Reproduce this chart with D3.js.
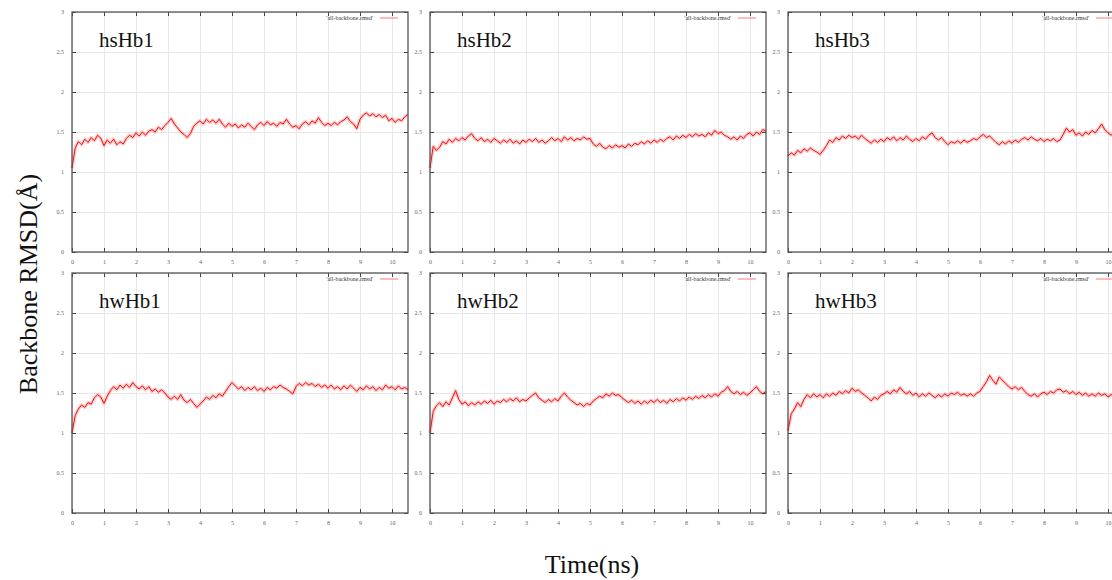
<!DOCTYPE html>
<html>
<head>
<meta charset="utf-8">
<script src="https://cdn.jsdelivr.net/npm/d3@7/dist/d3.min.js"></script>
<style>
  body { margin: 0; background: #fff; }
  .tick text { font-family: "Liberation Serif", serif; font-size: 6px; fill: #666; }
  .frame-tick line { stroke: #444; }
  .grid line { stroke: #e2e2e2; stroke-width: 0.8; }
  .grid path { display: none; }
</style>
</head>
<body>
<div id="chart"></div>
<script>
// panel titles
const panelNames = ["hsHb1", "hsHb2", "hsHb3", "hwHb1", "hwHb2", "hwHb3"];
const legendLabel = "'all-backbone.rmsd'";

// tick labels
const xTicks = [0, 1, 2, 3, 4, 5, 6, 7, 8, 9, 10];
const yTicks = [0, 0.5, 1, 1.5, 2, 2.5, 3];

// RMSD values read every 0.1 ns, from 0 to 10.5 ns
const timeStep = 0.1;

const hsHb1 = [1.05,1.30,1.38,1.34,1.41,1.37,1.43,1.39,1.46,1.42,1.33,1.40,1.36,1.41,1.34,1.38,1.35,1.42,1.46,1.43,
  1.49,1.45,1.50,1.46,1.51,1.53,1.50,1.56,1.53,1.58,1.62,1.67,1.60,1.55,1.50,1.47,1.43,1.48,1.57,1.61,
  1.64,1.60,1.66,1.62,1.65,1.61,1.66,1.60,1.56,1.61,1.57,1.60,1.55,1.59,1.56,1.61,1.57,1.53,1.59,1.62,
  1.58,1.63,1.59,1.61,1.57,1.62,1.60,1.66,1.60,1.56,1.58,1.54,1.60,1.63,1.59,1.64,1.61,1.68,1.62,1.58,
  1.61,1.58,1.62,1.59,1.63,1.65,1.69,1.63,1.60,1.54,1.66,1.71,1.74,1.70,1.73,1.69,1.72,1.68,1.71,1.64,
  1.67,1.62,1.66,1.64,1.69,1.72];

const hsHb2 = [1.05,1.32,1.27,1.31,1.38,1.35,1.41,1.37,1.42,1.39,1.43,1.40,1.45,1.48,1.42,1.39,1.43,1.38,1.41,1.37,
  1.42,1.39,1.36,1.40,1.37,1.41,1.36,1.39,1.35,1.40,1.37,1.41,1.38,1.42,1.37,1.40,1.36,1.39,1.43,1.39,
  1.42,1.38,1.44,1.40,1.43,1.39,1.42,1.40,1.44,1.41,1.42,1.35,1.32,1.36,1.31,1.29,1.33,1.30,1.34,1.31,
  1.33,1.30,1.35,1.32,1.36,1.34,1.38,1.35,1.39,1.36,1.40,1.37,1.41,1.38,1.42,1.44,1.40,1.45,1.42,1.46,
  1.43,1.47,1.44,1.48,1.45,1.47,1.44,1.49,1.46,1.52,1.48,1.50,1.46,1.44,1.41,1.44,1.40,1.45,1.42,1.47,
  1.49,1.45,1.50,1.47,1.53,1.51];

const hsHb3 = [1.20,1.24,1.21,1.27,1.24,1.29,1.26,1.30,1.27,1.25,1.22,1.27,1.33,1.40,1.37,1.43,1.40,1.45,1.42,1.46,
  1.43,1.45,1.41,1.46,1.42,1.39,1.36,1.40,1.37,1.41,1.38,1.43,1.40,1.44,1.39,1.43,1.40,1.45,1.41,1.38,
  1.42,1.39,1.44,1.41,1.46,1.49,1.43,1.40,1.43,1.38,1.34,1.38,1.36,1.39,1.36,1.40,1.37,1.39,1.42,1.40,
  1.44,1.47,1.43,1.45,1.41,1.37,1.34,1.38,1.35,1.39,1.36,1.40,1.37,1.41,1.43,1.40,1.44,1.41,1.39,1.42,
  1.38,1.41,1.39,1.42,1.38,1.40,1.47,1.55,1.50,1.53,1.46,1.49,1.45,1.50,1.47,1.52,1.49,1.54,1.60,1.53,
  1.49,1.46,1.50,1.47,1.49,1.46];

const hwHb1 = [1.00,1.22,1.30,1.35,1.32,1.38,1.36,1.44,1.48,1.45,1.37,1.46,1.53,1.58,1.54,1.60,1.56,1.61,1.57,1.63,
  1.58,1.55,1.59,1.54,1.58,1.52,1.55,1.51,1.54,1.50,1.45,1.42,1.46,1.42,1.48,1.41,1.38,1.42,1.37,1.32,
  1.36,1.40,1.45,1.42,1.47,1.44,1.49,1.46,1.52,1.58,1.63,1.59,1.55,1.58,1.53,1.57,1.54,1.58,1.53,1.56,
  1.52,1.57,1.54,1.58,1.56,1.60,1.57,1.55,1.52,1.49,1.58,1.62,1.59,1.63,1.60,1.62,1.58,1.61,1.57,1.60,
  1.56,1.60,1.55,1.58,1.54,1.59,1.55,1.60,1.56,1.52,1.57,1.54,1.59,1.55,1.58,1.53,1.57,1.54,1.60,1.56,
  1.58,1.54,1.59,1.55,1.57,1.54];

const hwHb2 = [1.00,1.27,1.34,1.38,1.33,1.39,1.35,1.44,1.53,1.42,1.36,1.39,1.34,1.38,1.35,1.39,1.36,1.40,1.37,1.41,
  1.36,1.40,1.38,1.42,1.39,1.43,1.40,1.44,1.39,1.42,1.40,1.44,1.47,1.50,1.44,1.41,1.38,1.42,1.39,1.43,
  1.40,1.46,1.50,1.45,1.41,1.38,1.35,1.37,1.33,1.37,1.35,1.40,1.43,1.46,1.44,1.49,1.46,1.50,1.47,1.48,
  1.44,1.41,1.38,1.41,1.37,1.40,1.36,1.40,1.37,1.41,1.38,1.42,1.38,1.41,1.37,1.42,1.39,1.43,1.40,1.44,
  1.41,1.45,1.42,1.46,1.43,1.47,1.44,1.48,1.45,1.49,1.46,1.51,1.53,1.58,1.52,1.49,1.52,1.48,1.51,1.47,
  1.50,1.54,1.58,1.52,1.49,1.52];

const hwHb3 = [1.03,1.24,1.30,1.38,1.33,1.42,1.48,1.44,1.49,1.45,1.48,1.44,1.49,1.46,1.50,1.47,1.52,1.49,1.53,1.50,
  1.56,1.52,1.54,1.50,1.47,1.44,1.40,1.45,1.42,1.47,1.49,1.52,1.49,1.54,1.51,1.57,1.52,1.49,1.52,1.47,
  1.50,1.45,1.49,1.46,1.50,1.47,1.44,1.48,1.45,1.49,1.46,1.50,1.48,1.51,1.47,1.49,1.46,1.49,1.46,1.50,
  1.52,1.58,1.64,1.72,1.66,1.61,1.70,1.66,1.62,1.58,1.55,1.58,1.54,1.57,1.52,1.48,1.46,1.49,1.45,1.49,
  1.51,1.48,1.52,1.50,1.54,1.55,1.51,1.53,1.49,1.52,1.48,1.51,1.47,1.50,1.46,1.49,1.46,1.50,1.47,1.49,
  1.45,1.48,1.46,1.49,1.47,1.48];

const seriesList = [hsHb1, hsHb2, hsHb3, hwHb1, hwHb2, hwHb3];

;(function () {
  const W = 1112, H = 580;
  const panelW = 336, panelH = 240;
  const colStep = 358, rowStep = 261;
  const left0 = 72, top0 = 12;

  const svg = d3.select("#chart")
    .append("svg")
    .attr("width", W)
    .attr("height", H);

  const xScale = d3.scaleLinear().domain([0, 10.5]).range([0, panelW]);
  const yScale = d3.scaleLinear().domain([0, 3]).range([panelH, 0]);

  const line = d3.line()
    .x((d, i) => xScale(i * timeStep))
    .y(d => yScale(d));

  seriesList.forEach((values, idx) => {
    const col = idx % 3, row = Math.floor(idx / 3);
    const g = svg.append("g")
      .attr("transform", "translate(" + (left0 + col * colStep) + "," + (top0 + row * rowStep) + ")");

    // light grid
    g.append("g").attr("class", "grid")
      .call(d3.axisBottom(xScale).tickValues(xTicks).tickSize(panelH).tickFormat(""));
    g.append("g").attr("class", "grid")
      .call(d3.axisRight(yScale).tickValues(yTicks).tickSize(panelW).tickFormat(""));

    // the rmsd trace: soft halo plus the main line
    g.append("path")
      .datum(values)
      .attr("fill", "none")
      .attr("stroke", "rgba(255,70,70,0.28)")
      .attr("stroke-width", 3.5)
      .attr("stroke-linejoin", "round")
      .attr("d", line);
    g.append("path")
      .datum(values)
      .attr("fill", "none")
      .attr("stroke", "#ee1111")
      .attr("stroke-width", 1)
      .attr("d", line);

    // frame with inward ticks on every side
    const xb = g.append("g").attr("class", "frame-tick")
      .attr("transform", "translate(0," + panelH + ")")
      .call(d3.axisBottom(xScale).tickValues(xTicks).tickSize(-4).tickPadding(8).tickFormat(d3.format("d")));
    xb.select(".domain").remove();
    const xt = g.append("g").attr("class", "frame-tick")
      .call(d3.axisTop(xScale).tickValues(xTicks).tickSize(-4).tickFormat(""));
    xt.select(".domain").remove();
    const yl = g.append("g").attr("class", "frame-tick")
      .call(d3.axisLeft(yScale).tickValues(yTicks).tickSize(-4).tickPadding(8).tickFormat(d3.format("~g")));
    yl.select(".domain").remove();
    const yr = g.append("g").attr("class", "frame-tick")
      .attr("transform", "translate(" + panelW + ",0)")
      .call(d3.axisRight(yScale).tickValues(yTicks).tickSize(-4).tickFormat(""));
    yr.select(".domain").remove();

    g.append("rect")
      .attr("width", panelW)
      .attr("height", panelH)
      .attr("fill", "none")
      .attr("stroke", "#555")
      .attr("stroke-width", 1.3);

    // legend entry
    g.append("text")
      .attr("x", 301)
      .attr("y", 8)
      .attr("text-anchor", "end")
      .style("font-family", "Liberation Serif, serif")
      .style("font-size", "6px")
      .style("fill", "#333")
      .text(legendLabel);
    g.append("line")
      .attr("x1", 308).attr("x2", 326)
      .attr("y1", 6).attr("y2", 6)
      .attr("stroke", "#ff5555")
      .attr("stroke-width", 0.8);

    // panel title
    g.append("text")
      .attr("x", 27)
      .attr("y", 35)
      .style("font-family", "Liberation Serif, serif")
      .style("font-size", "21px")
      .style("fill", "#111")
      .text(panelNames[idx]);
  });

  svg.append("text")
    .attr("transform", "translate(37,284) rotate(-90)")
    .attr("text-anchor", "middle")
    .style("font-family", "Liberation Serif, serif")
    .style("font-size", "26px")
    .style("fill", "#111")
    .text("Backbone  RMSD(Å)");

  svg.append("text")
    .attr("x", 592)
    .attr("y", 573)
    .attr("text-anchor", "middle")
    .style("font-family", "Liberation Serif, serif")
    .style("font-size", "26px")
    .style("fill", "#111")
    .text("Time(ns)");
})()
</script>
</body>
</html>
